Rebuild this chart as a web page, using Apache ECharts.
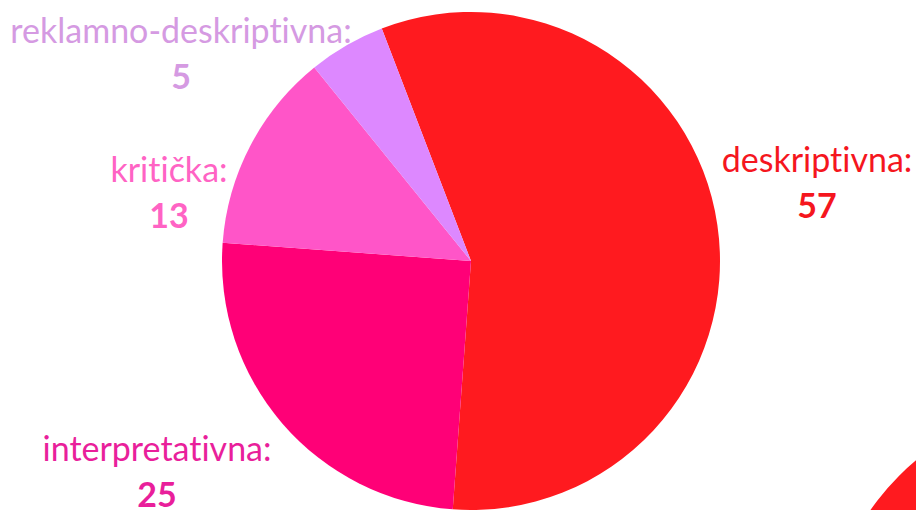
<!DOCTYPE html>
<html>
<head>
<meta charset="utf-8">
<script src="https://cdn.jsdelivr.net/npm/echarts@6/dist/echarts.min.js"></script>
<style>
  html, body { margin: 0; padding: 0; background: #fff; }
  #chart { width: 916px; height: 510px; }
  #chart text { font-variant-ligatures: none; }
</style>
</head>
<body>
<div id="chart"></div>
<script>
// podaci
var categories = ['deskriptivna', 'interpretativna', 'kritička', 'reklamno-deskriptivna'];
var values = [57, 25, 13, 5];
// rub sljedećeg grafikona (vidi se samo dio u donjem desnom kutu)
var nextChartValues = [1];

// boje i položaji oznaka
var sliceColors = ['#ff1a1f', '#ff0077', '#ff55c8', '#dd88ff'];
var labelColors = ['#f5161e', '#e91f9b', '#ff63c4', '#d59ae2'];
var labelAnchors = [[817, 181], [157, 470], [169, 191], [181, 52]];

var chart = echarts.init(document.getElementById('chart'), null, { renderer: 'svg' });

var pieData = [];
for (var i = 0; i < categories.length; i++) {
    pieData.push({
        name: categories[i],
        value: values[i],
        itemStyle: { color: sliceColors[i] },
        label: {
            rich: {
                n: { color: labelColors[i], fontSize: 34, fontFamily: 'Lato', lineHeight: 46 },
                v: { color: labelColors[i], fontSize: 34, fontFamily: 'Lato', fontWeight: 'bold', lineHeight: 46 }
            }
        }
    });
}

var option = {
    backgroundColor: '#fff',
    animation: false,
    series: [
        {
            type: 'pie',
            center: [471, 261],
            radius: 249,
            startAngle: 111,
            clockwise: true,
            avoidLabelOverlap: false,
            data: pieData,
            label: {
                show: true,
                position: 'outside',
                overflow: 'none',
                formatter: '{n|{b}:}\n{v|{c}}'
            },
            labelLine: { show: false },
            labelLayout: function (params) {
                var p = labelAnchors[params.dataIndex];
                return { x: p[0], y: p[1], align: 'center', verticalAlign: 'middle' };
            },
            emphasis: { disabled: true }
        },
        {
            type: 'pie',
            center: [1075, 652],
            radius: 249,
            silent: true,
            data: nextChartValues.map(function (v) {
                return { value: v, itemStyle: { color: '#ff1a1f' } };
            }),
            label: { show: false },
            labelLine: { show: false }
        }
    ]
};

chart.setOption(option);
</script>
</body>
</html>
